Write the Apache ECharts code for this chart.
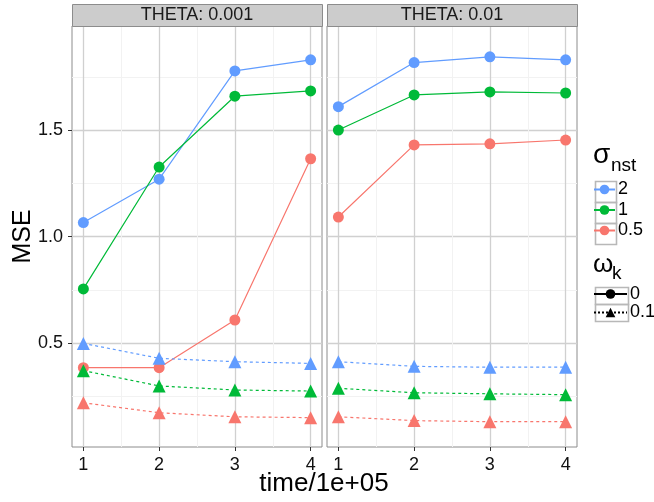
<!DOCTYPE html>
<html>
<head>
<meta charset="utf-8">
<script src="https://cdn.jsdelivr.net/npm/echarts@6/dist/echarts.min.js"></script>
<style>html,body{margin:0;padding:0;background:#fff}#c{width:654px;height:502px}</style>
</head>
<body>
<div id="c"></div>
<script>
// ---- data ----
var times = [1, 2, 3, 4];
var panels = ['THETA: 0.001', 'THETA: 0.01'];
var sigmaLevels = ['2', '1', '0.5'];
var sigmaColors = ['#619CFF', '#00BA38', '#F8766D'];
var omegaLevels = ['0', '0.1'];
var xTicks = [1, 2, 3, 4];
var xMinor = [1.5, 2.5, 3.5];
var yTicks = [0.5, 1.0, 1.5];
var yMinor = [0.25, 0.75, 1.25, 1.75];

// THETA 0.001, omega 0 (circles)
var p1_w0_s2   = [1.066, 1.270, 1.779, 1.831];
var p1_w0_s1   = [0.754, 1.327, 1.660, 1.685];
var p1_w0_s05  = [0.384, 0.384, 0.608, 1.366];
// THETA 0.001, omega 0.1 (triangles)
var p1_w1_s2   = [0.498, 0.428, 0.412, 0.404];
var p1_w1_s1   = [0.370, 0.298, 0.279, 0.274];
var p1_w1_s05  = [0.219, 0.172, 0.153, 0.149];
// THETA 0.01, omega 0
var p2_w0_s2   = [1.611, 1.818, 1.845, 1.831];
var p2_w0_s1   = [1.501, 1.666, 1.680, 1.675];
var p2_w0_s05  = [1.092, 1.431, 1.436, 1.454];
// THETA 0.01, omega 0.1
var p2_w1_s2   = [0.412, 0.390, 0.386, 0.386];
var p2_w1_s1   = [0.287, 0.266, 0.261, 0.257];
var p2_w1_s05  = [0.153, 0.135, 0.130, 0.130];

var panelData = [
  [[p1_w0_s2, p1_w0_s1, p1_w0_s05], [p1_w1_s2, p1_w1_s1, p1_w1_s05]],
  [[p2_w0_s2, p2_w0_s1, p2_w0_s05], [p2_w1_s2, p2_w1_s1, p2_w1_s05]]
];

var FONT = 'Liberation Sans, Arial, sans-serif';
var X_MIN = 0.85, X_MAX = 4.15, Y_MIN = 0.011, Y_MAX = 1.99;
var gridDefs = [{left: 72, top: 26, width: 250, height: 421}, {left: 327, top: 26, width: 250, height: 421}];

var grids = [], xAxes = [], yAxes = [], series = [], graphics = [];
gridDefs.forEach(function (g, i) {
  grids.push({left: g.left, top: g.top, width: g.width, height: g.height, show: true,
    borderColor: '#8c8c8c', borderWidth: 1, backgroundColor: '#fff', containLabel: false});
  xAxes.push({type: 'value', gridIndex: i, min: X_MIN, max: X_MAX,
    axisLine: {show: false},
    axisTick: {show: true, length: 4, customValues: xTicks, lineStyle: {color: '#333', width: 1}},
    axisLabel: {show: true, customValues: xTicks, margin: 9, color: '#111', fontSize: 18, fontFamily: FONT,
      formatter: function (v) { return String(v); }},
    splitLine: {show: true, lineStyle: {color: '#d0d0d0', width: 1.3}}
  });
  xAxes.push({type: 'value', gridIndex: i, min: X_MIN, max: X_MAX,
    axisLine: {show: false}, axisLabel: {show: false},
    axisTick: {show: false, customValues: xMinor},
    splitLine: {show: true, lineStyle: {color: '#f2f2f2', width: 1}}
  });
  yAxes.push({type: 'value', gridIndex: i, min: Y_MIN, max: Y_MAX,
    axisLine: {show: false},
    axisTick: {show: i === 0, length: 4, customValues: yTicks, lineStyle: {color: '#333', width: 1}},
    axisLabel: {show: i === 0, customValues: yTicks, margin: 9, color: '#111', fontSize: 18, fontFamily: FONT,
      formatter: function (v) { return v.toFixed(1); }},
    splitLine: {show: true, lineStyle: {color: '#d0d0d0', width: 1.3}}
  });
  yAxes.push({type: 'value', gridIndex: i, min: Y_MIN, max: Y_MAX,
    axisLine: {show: false}, axisLabel: {show: false},
    axisTick: {show: false, customValues: yMinor},
    splitLine: {show: true, lineStyle: {color: '#f2f2f2', width: 1}}
  });
  graphics.push({type: 'rect', left: g.left, top: 4, shape: {width: g.width, height: 22},
    style: {fill: '#cccccc', stroke: '#8c8c8c', lineWidth: 1}, z: 10});
  graphics.push({type: 'text', x: g.left + g.width / 2, y: 15.5,
    style: {text: panels[i], fill: '#1a1a1a', font: '18px ' + FONT, textAlign: 'center', textVerticalAlign: 'middle'}, z: 11});
});

for (var p = 0; p < 2; p++) {
  for (var w = 0; w < 2; w++) {
    for (var s = 0; s < 3; s++) {
      var vals = panelData[p][w][s];
      series.push({
        type: 'line',
        name: w === 0 ? sigmaLevels[s] : ('w' + sigmaLevels[s]),
        xAxisIndex: p * 2, yAxisIndex: p * 2,
        data: times.map(function (t, k) { return [t, vals[k]]; }),
        symbol: w === 0 ? 'circle' : 'triangle',
        symbolSize: w === 0 ? 11 : 13,
        color: sigmaColors[s],
        itemStyle: {color: sigmaColors[s]},
        lineStyle: {color: sigmaColors[s], width: 1.2, type: w === 0 ? 'solid' : [3, 3]},
        animation: false,
        z: 5
      });
    }
  }
}
series.push({type: 'line', name: omegaLevels[0], xAxisIndex: 0, yAxisIndex: 0, data: [],
  symbol: 'circle', color: '#000', itemStyle: {color: '#000'}, lineStyle: {color: '#000', width: 1.2, type: 'solid'}});
series.push({type: 'line', name: omegaLevels[1], xAxisIndex: 0, yAxisIndex: 0, data: [],
  symbol: 'triangle', color: '#000', itemStyle: {color: '#000'}, lineStyle: {color: '#000', width: 1.2, type: [2, 2]}});

// legend key boxes
[179, 200, 221].forEach(function (y) {
  graphics.push({type: 'rect', left: 593, top: y, shape: {width: 21, height: 21},
    style: {fill: 'none', stroke: '#b8b8b8', lineWidth: 1.6}});
});
[285, 302].forEach(function (y) {
  graphics.push({type: 'rect', left: 593, top: y, shape: {width: 33, height: 17},
    style: {fill: 'none', stroke: '#b8b8b8', lineWidth: 1.6}});
});
graphics.push({type: 'text', x: 593, y: 169, style: {text: 'σ', fill: '#000', font: '28px ' + FONT, textVerticalAlign: 'bottom'}});
graphics.push({type: 'text', x: 611, y: 175, style: {text: 'nst', fill: '#000', font: '19px ' + FONT, textVerticalAlign: 'bottom'}});
graphics.push({type: 'text', x: 593, y: 278, style: {text: 'ω', fill: '#000', font: '26px ' + FONT, textVerticalAlign: 'bottom'}});
graphics.push({type: 'text', x: 612, y: 283, style: {text: 'k', fill: '#000', font: '19px ' + FONT, textVerticalAlign: 'bottom'}});
graphics.push({type: 'text', x: 23, y: 236.5, rotation: Math.PI / 2,
  style: {text: 'MSE', fill: '#000', font: '25px ' + FONT, textAlign: 'center', textVerticalAlign: 'middle'}});
graphics.push({type: 'text', x: 324, y: 484,
  style: {text: 'time/1e+05', fill: '#000', font: '26px ' + FONT, textAlign: 'center', textVerticalAlign: 'middle'}});

var chart = echarts.init(document.getElementById('c'), null, {renderer: 'canvas'});
chart.setOption({
  animation: false,
  backgroundColor: '#fff',
  grid: grids,
  xAxis: xAxes,
  yAxis: yAxes,
  series: series,
  graphic: graphics,
  legend: [
    {data: sigmaLevels, left: 593, top: 179.5, orient: 'vertical', itemWidth: 21, itemHeight: 12,
      itemGap: 0.5, padding: 0, selectedMode: false,
      textStyle: {fontSize: 18, fontFamily: FONT, color: '#000', lineHeight: 20, padding: [0, 0, 0, -2]}},
    {data: omegaLevels, left: 593, top: 285, orient: 'vertical', itemWidth: 33, itemHeight: 12,
      itemGap: 0.5, padding: 0, selectedMode: false,
      textStyle: {fontSize: 18, fontFamily: FONT, color: '#000', lineHeight: 16, padding: [0, 0, 0, -2]}}
  ]
});
</script>
</body>
</html>
